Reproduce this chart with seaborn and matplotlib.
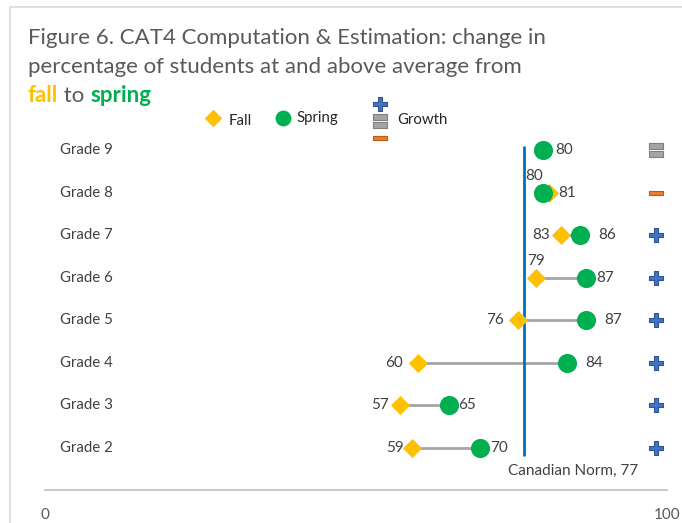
import numpy as np
import pandas as pd
import matplotlib
matplotlib.use("Agg")
import matplotlib.pyplot as plt
import seaborn as sns
from matplotlib.path import Path
from matplotlib.patches import Rectangle

grades = ['Grade 2', 'Grade 3', 'Grade 4', 'Grade 5', 'Grade 6', 'Grade 7', 'Grade 8', 'Grade 9']
fall = [59, 57, 60, 76, 79, 83, 81, 80]
spring = [70, 65, 84, 87, 87, 86, 80, 80]
growth = ['up', 'up', 'up', 'up', 'up', 'up', 'down', 'same']
norm = 77

# label offsets in points (dx, dy) for each point
fall_off = [(-6, 0, 'right'), (-8, 0, 'right'), (-11, 0, 'right'), (-10, 0, 'right'),
            (0, 12, 'center'), (-8, 0, 'right'), (7, 0, 'left'), None]
spring_off = [(7, 0, 'left'), (6, 0, 'left'), (13, 0, 'left'), (13, 0, 'left'),
              (7, 0, 'left'), (13, 0, 'left'), (-6, 12, 'center'), (9, 0, 'left')]

sns.set_style("white")
plt.rcParams['font.family'] = ['Lato', 'DejaVu Sans']

FALL_C = '#FFC000'
SPRING_C = '#00B050'
TXT = '#595959'

df = pd.DataFrame({'grade': grades, 'y': np.arange(len(grades)),
                   'fall': fall, 'spring': spring, 'growth': growth})

fig = plt.figure(figsize=(6.82, 5.23), dpi=100)
fig.patches.append(Rectangle((10 / 682, -0.1), 1.2, 1 - 7 / 523 + 0.1,
                             transform=fig.transFigure, fill=False,
                             edgecolor='#D9D9D9', lw=1.2))

ax = fig.add_axes([45 / 682, 1 - 490 / 523, 622 / 682, 390 / 523])
ax.set_xlim(0, 100)
ax.set_ylim(-0.987, -0.987 + 390 / 42.57)

# connectors
ax.hlines(df['y'], df['fall'], df['spring'], color='#A5A5A5', lw=2, zorder=1)

# canadian norm
ax.plot([norm, norm], [-0.17, 7.07], color='#0070C0', lw=2, zorder=2)
ax.text(74.5, -0.53, f'Canadian Norm, {norm}', fontsize=11, color='#404040',
        ha='left', va='center')

fmask = df['grade'] != 'Grade 9'
sns.scatterplot(data=df[fmask], x='fall', y='y', marker='D', s=95, color=FALL_C,
                edgecolor=FALL_C, linewidth=0, ax=ax, zorder=3)
sns.scatterplot(data=df, x='spring', y='y', marker='o', s=190, color=SPRING_C,
                edgecolor=SPRING_C, linewidth=0, ax=ax, zorder=4)

# growth markers
eq_verts = [(-1, 0.15), (1, 0.15), (1, 1), (-1, 1), (-1, 0.15),
            (-1, -1), (1, -1), (1, -0.15), (-1, -0.15), (-1, -1)]
eq_codes = [Path.MOVETO, Path.LINETO, Path.LINETO, Path.LINETO, Path.CLOSEPOLY] * 2
eq_marker = Path(eq_verts, eq_codes)
minus_marker = Path([(-1, -0.3), (1, -0.3), (1, 0.3), (-1, 0.3), (-1, -0.3)],
                    [Path.MOVETO, Path.LINETO, Path.LINETO, Path.LINETO, Path.CLOSEPOLY])

gx = 98.3
up = df[df['growth'] == 'up']
ax.scatter([gx] * len(up), up['y'], marker='P', s=115, color='#4472C4',
           edgecolor='#2F5597', linewidth=0.8, zorder=3)
for _, r in df[df['growth'] == 'down'].iterrows():
    ax.scatter([gx], [r['y']], marker=minus_marker, s=110, color='#ED7D31',
               edgecolor='#C55A11', linewidth=0.8, zorder=3)
for _, r in df[df['growth'] == 'same'].iterrows():
    ax.scatter([gx], [r['y']], marker=eq_marker, s=110, color='#A5A5A5',
               edgecolor='#7F7F7F', linewidth=0.8, zorder=3)

# data labels
for i, r in df.iterrows():
    if fall_off[i] is not None:
        dx, dy, ha = fall_off[i]
        ax.annotate(str(r['fall']), (r['fall'], r['y']), xytext=(dx, dy),
                    textcoords='offset points', ha=ha, va='center',
                    fontsize=11, color='#404040')
    dx, dy, ha = spring_off[i]
    ax.annotate(str(r['spring']), (r['spring'], r['y']), xytext=(dx, dy),
                textcoords='offset points', ha=ha, va='center',
                fontsize=11, color='#404040')

# grade labels
for _, r in df.iterrows():
    ax.text(2.4, r['y'], r['grade'], fontsize=10.8, color='#404040',
            ha='left', va='center')

ax.set_yticks([])
ax.set_xticks([0, 100])
ax.set_xticklabels(['0', '100'], fontsize=11, color=TXT)
ax.tick_params(axis='x', length=0, pad=13)
ax.set_xlabel('')
ax.set_ylabel('')
for s in ['top', 'right', 'left']:
    ax.spines[s].set_visible(False)
ax.spines['bottom'].set_color('#BFBFBF')
ax.spines['bottom'].set_linewidth(1.2)

# title
tsize = 16
fig.text(28 / 682, 1 - 38 / 523, 'Figure 6. CAT4 Computation & Estimation: change in',
         fontsize=tsize, color=TXT, va='center', ha='left')
fig.text(28 / 682, 1 - 67 / 523, 'percentage of students at and above average from',
         fontsize=tsize, color=TXT, va='center', ha='left')
renderer = fig.canvas.get_renderer()
x0 = 28 / 682
parts = [('fall', FALL_C, 'bold'), (' to ', TXT, 'normal'), ('spring', SPRING_C, 'bold')]
for txt, col, wt in parts:
    t = fig.text(x0, 1 - 96 / 523, txt, fontsize=tsize, color=col, fontweight=wt,
                 va='center', ha='left')
    bb = t.get_window_extent(renderer)
    x0 += bb.width / fig.bbox.width

# legend
lax = fig.add_axes([0, 0, 1, 1], facecolor='none')
lax.set_xlim(0, 682)
lax.set_ylim(523, 0)
lax.axis('off')
lax.scatter([213], [118], marker='D', s=80, color=FALL_C, linewidth=0)
lax.text(229, 121, 'Fall', fontsize=10.8, color='#262626', va='center')
lax.scatter([283], [118], marker='o', s=130, color=SPRING_C, linewidth=0)
lax.text(296, 118, 'Spring', fontsize=10.8, color='#262626', va='center')
lax.scatter([380], [104], marker='P', s=100, color='#4472C4', edgecolor='#2F5597', linewidth=0.8)
lax.scatter([380], [121], marker=eq_marker, s=90, color='#A5A5A5', edgecolor='#7F7F7F', linewidth=0.8)
lax.scatter([380], [138], marker=minus_marker, s=90, color='#ED7D31', edgecolor='#C55A11', linewidth=0.8)
lax.text(397, 120, 'Growth', fontsize=10.8, color='#262626', va='center')

fig.savefig('out.png', dpi=100)
